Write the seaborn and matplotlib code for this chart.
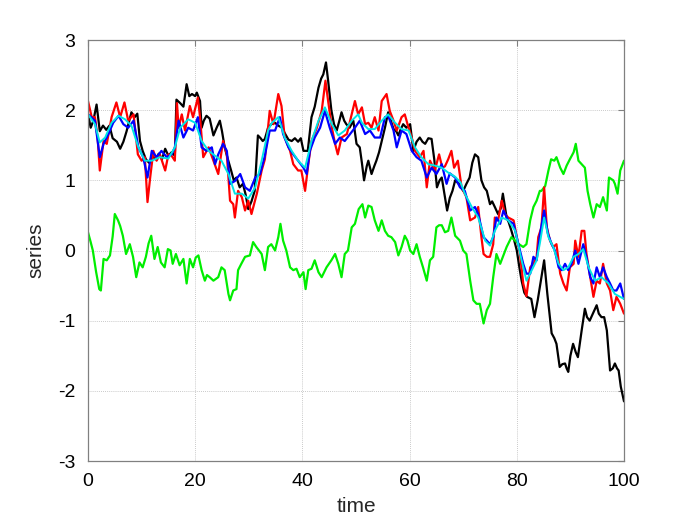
import matplotlib
matplotlib.use("Agg")
import matplotlib.pyplot as plt
import seaborn as sns
import numpy as np

# ---- data ----
t_black = [0, 0.5, 1.0, 1.6, 2.2, 2.8, 3.4, 4.0, 4.6, 5.4, 6.0, 6.6, 7.2, 8.1, 8.7, 9.2, 9.7, 10.2, 10.8, 11.4,
           12.0, 12.6, 13.2, 13.8, 14.4, 15.0, 15.6, 16.2, 16.5, 17.2, 17.8, 18.4, 18.9, 19.4, 20.0, 20.3, 20.9,
           21.2, 21.6, 22.1, 22.7, 23.4, 24.0, 24.6, 25.0, 25.5, 26.1, 26.7, 27.2, 27.7, 28.3, 28.9, 29.4, 29.9,
           30.5, 31.1, 31.7, 32.2, 32.6, 33.0, 33.6, 34.2, 34.9, 35.5, 36.2, 36.8, 37.4, 38.0, 38.6, 39.2, 39.7,
           40.2, 41.0, 41.7, 42.3, 43.0, 43.5, 43.9, 44.4, 44.8, 45.4, 45.9, 46.4, 46.9, 47.3, 47.8, 48.2, 48.8,
           49.5, 50.1, 50.7, 51.1, 51.5, 52.0, 52.3, 52.9, 53.4, 53.8, 54.3, 54.8, 55.4, 56.0, 56.5, 57.0, 57.5,
           57.9, 58.3, 58.8, 59.4, 60.1, 60.7, 61.3, 61.9, 62.4, 62.9, 63.5, 64.1, 64.6, 65.1, 65.6, 66.0, 66.5,
           67.0, 67.5, 68.0, 68.5, 69.2, 70.0, 70.6, 71.2, 71.7, 72.2, 72.8, 73.4, 73.9, 74.4, 75.0, 75.4, 75.9,
           76.5, 77.0, 77.4, 78.1, 78.5, 79.0, 79.5, 80.0, 80.5, 80.9, 81.4, 81.9, 82.7, 83.3, 83.9, 84.4, 85.1,
           85.7, 86.1, 86.5, 87.0, 87.4, 88.0, 88.5, 89.0, 89.3, 89.6, 90.0, 90.5, 91.0, 91.4, 92.1, 92.7, 93.1,
           93.6, 94.2, 94.9, 95.3, 95.8, 96.3, 96.8, 97.4, 97.9, 98.3, 98.7, 99.0, 99.4, 100]
black = [1.95, 1.75, 1.85, 2.08, 1.7, 1.78, 1.72, 1.78, 1.6, 1.55, 1.45, 1.55, 1.7, 1.97, 1.9, 1.95, 1.56, 1.42,
         1.3, 1.25, 1.35, 1.3, 1.38, 1.3, 1.45, 1.35, 1.4, 1.35, 2.15, 2.1, 2.05, 2.37, 2.2, 2.23, 2.2, 2.25, 2.13,
         1.75, 1.85, 1.92, 1.88, 1.64, 1.75, 1.85, 1.7, 1.47, 1.3, 1.14, 1.0, 1.04, 0.9, 0.95, 0.8, 0.59, 0.7,
         0.85, 1.64, 1.6, 1.56, 1.59, 1.75, 1.8, 1.82, 1.78, 1.75, 1.66, 1.58, 1.56, 1.6, 1.55, 1.6, 1.42, 1.42,
         1.9, 2.05, 2.32, 2.45, 2.51, 2.68, 2.42, 2.0, 1.8, 1.71, 1.85, 1.97, 1.85, 1.8, 1.75, 1.85, 1.52, 1.47,
         1.25, 1.0, 1.2, 1.28, 1.09, 1.2, 1.28, 1.4, 1.56, 1.75, 1.97, 1.85, 1.73, 1.7, 1.64, 1.72, 1.8, 1.75,
         1.8, 1.42, 1.55, 1.61, 1.55, 1.52, 1.6, 1.59, 1.3, 0.9, 1.0, 1.04, 0.8, 0.57, 0.75, 0.85, 1.0, 0.95,
         0.85, 0.95, 1.04, 1.25, 1.37, 1.33, 1.0, 0.9, 0.85, 0.66, 0.7, 0.62, 0.52, 0.6, 0.81, 0.47, 0.4, 0.28,
         0.15, 0.0, -0.25, -0.43, -0.6, -0.66, -0.69, -0.95, -0.71, -0.47, -0.14, -0.62, -0.9, -1.18, -1.25,
         -1.33, -1.66, -1.62, -1.61, -1.68, -1.73, -1.5, -1.33, -1.45, -1.52, -1.14, -0.83, -0.95, -1.0, -0.9,
         -0.78, -0.9, -0.95, -0.95, -1.14, -1.71, -1.68, -1.61, -1.68, -1.71, -1.94, -2.15]

t_green = [0, 0.5, 0.9, 1.5, 2.1, 2.4, 2.9, 3.5, 4.1, 4.6, 5.0, 5.6, 6.0, 6.5, 7.1, 7.8, 8.4, 9.0, 9.6, 10.2,
           10.8, 11.3, 11.8, 12.4, 13.0, 13.6, 14.3, 14.9, 15.4, 15.8, 16.4, 17.1, 17.8, 18.4, 19.0, 19.6, 20.1,
           20.6, 21.2, 21.8, 22.2, 22.7, 23.4, 24.3, 24.9, 25.5, 26.2, 26.5, 27.1, 27.7, 28.0, 28.6, 29.3, 30.2,
           30.8, 31.4, 32.4, 33.0, 33.6, 34.2, 34.9, 35.5, 35.9, 36.4, 37.0, 37.7, 38.3, 38.9, 39.5, 40.2, 40.6,
           41.1, 41.7, 42.3, 43.0, 43.6, 44.5, 45.4, 46.1, 46.7, 47.3, 47.9, 48.5, 49.2, 49.8, 50.5, 51.2, 51.7,
           52.3, 52.9, 53.5, 54.2, 54.8, 55.4, 56.0, 56.6, 57.3, 57.9, 58.5, 59.1, 59.6, 60.1, 60.7, 61.3, 61.9,
           62.5, 63.2, 63.8, 64.4, 65.0, 65.5, 66.0, 66.6, 67.2, 67.8, 68.5, 69.4, 70.0, 70.6, 71.3, 71.9, 72.5,
           73.1, 73.8, 74.4, 75.0, 75.6, 76.2, 76.9, 77.5, 78.1, 79.0, 79.7, 80.4, 81.2, 81.8, 82.5, 83.1, 83.7,
           84.3, 84.6, 85.3, 85.9, 86.4, 87.0, 87.4, 88.1, 88.7, 89.3, 89.9, 90.6, 91.0, 91.5, 92.1, 92.7, 93.2,
           93.7, 94.3, 94.9, 95.5, 96.1, 96.8, 97.2, 98.0, 98.3, 98.8, 99.3, 100]
green = [0.26, 0.12, 0.0, -0.3, -0.55, -0.57, -0.12, -0.14, -0.07, 0.2, 0.52, 0.43, 0.35, 0.21, -0.05, 0.09,
         -0.09, -0.38, -0.17, -0.24, -0.09, 0.1, 0.21, -0.12, 0.05, -0.17, -0.24, 0.02, 0.0, -0.19, -0.05, -0.21,
         -0.12, -0.47, -0.12, -0.24, -0.1, -0.07, -0.28, -0.43, -0.35, -0.38, -0.43, -0.38, -0.24, -0.28, -0.62,
         -0.71, -0.57, -0.55, -0.28, -0.19, -0.09, -0.07, 0.12, 0.05, -0.05, -0.28, 0.05, 0.09, 0.0, 0.19, 0.38,
         0.14, 0.0, -0.24, -0.28, -0.26, -0.38, -0.31, -0.55, -0.28, -0.26, -0.14, -0.31, -0.38, -0.24, -0.14,
         -0.05, -0.19, -0.38, -0.05, 0.0, 0.33, 0.38, 0.59, 0.66, 0.47, 0.64, 0.62, 0.43, 0.28, 0.43, 0.28, 0.21,
         0.19, 0.12, -0.07, 0.05, 0.21, 0.14, 0.0, -0.05, 0.09, -0.09, -0.24, -0.43, -0.14, -0.09, 0.33, 0.36,
         0.36, 0.26, 0.28, 0.47, 0.21, 0.14, 0.0, -0.05, -0.43, -0.71, -0.76, -0.76, -1.04, -0.85, -0.76, -0.38,
         -0.05, -0.19, -0.07, 0.05, 0.19, 0.14, 0.09, 0.05, 0.09, 0.43, 0.62, 0.71, 0.85, 0.85, 0.92, 1.14, 1.3,
         1.28, 1.33, 1.18, 1.09, 1.21, 1.3, 1.4, 1.52, 1.28, 1.23, 1.18, 0.85, 0.66, 0.47, 0.66, 0.62, 0.76,
         0.57, 1.04, 1.0, 0.95, 0.81, 1.14, 1.28]

t_red = [0, 0.7, 1.3, 1.8, 2.2, 2.9, 3.5, 4.4, 5.3, 6.0, 6.8, 7.5, 8.5, 9.3, 10.0, 10.6, 11.1, 11.6, 12.2, 12.8,
         13.4, 14.4, 15.0, 15.6, 16.2, 16.6, 16.9, 17.5, 18.1, 19.0, 19.6, 20.5, 20.9, 21.5, 22.5, 23.4, 24.3,
         25.2, 25.9, 26.5, 27.1, 27.4, 28.0, 28.7, 29.3, 29.9, 30.5, 31.5, 32.4, 33.0, 33.9, 34.6, 35.5, 36.1,
         36.7, 37.7, 38.3, 39.2, 39.8, 40.5, 41.1, 41.7, 42.7, 43.6, 44.3, 44.8, 45.5, 46.1, 46.6, 47.3, 48.3,
         49.2, 49.8, 50.4, 51.1, 51.7, 52.3, 52.9, 53.5, 54.2, 54.8, 55.7, 56.3, 57.0, 57.6, 58.5, 59.1, 59.8,
         60.4, 61.0, 61.9, 62.6, 63.2, 63.8, 64.7, 65.5, 66.1, 66.6, 67.2, 67.8, 68.3, 69.0, 69.7, 70.6, 71.3,
         72.2, 72.8, 73.4, 73.8, 74.4, 75.0, 75.6, 75.9, 76.5, 77.2, 77.8, 78.4, 79.4, 80.0, 80.6, 81.2, 81.8,
         82.5, 83.1, 83.7, 84.0, 84.6, 85.1, 85.6, 86.2, 86.8, 87.4, 88.1, 88.7, 89.3, 89.9, 90.6, 90.9, 91.5,
         92.1, 92.6, 93.0, 93.7, 94.3, 94.9, 95.5, 96.1, 96.8, 97.4, 98.0, 98.6, 99.3, 100]
red = [2.13, 1.9, 1.9, 1.6, 1.14, 1.56, 1.52, 1.9, 2.11, 1.9, 2.11, 1.85, 1.94, 1.37, 1.28, 1.33, 0.69, 1.04,
       1.42, 1.28, 1.37, 1.14, 1.37, 1.35, 1.28, 2.1, 1.75, 1.94, 1.71, 2.06, 1.9, 2.18, 1.9, 1.33, 1.47, 1.28,
       1.09, 1.56, 1.37, 0.71, 0.66, 0.47, 0.85, 0.76, 0.57, 0.71, 0.52, 0.81, 1.14, 1.3, 1.99, 1.8, 2.23, 2.06,
       1.61, 1.42, 1.23, 1.14, 1.14, 0.85, 1.23, 1.56, 1.75, 1.99, 2.42, 2.13, 1.75, 1.52, 1.37, 1.61, 1.66,
       1.94, 2.13, 1.94, 2.04, 1.8, 1.82, 1.75, 1.9, 1.71, 2.13, 2.23, 1.99, 1.85, 1.71, 1.9, 1.94, 1.75, 1.61,
       1.42, 1.33, 1.42, 0.9, 1.28, 1.14, 1.37, 1.18, 1.2, 1.3, 1.42, 1.18, 1.28, 0.9, 0.76, 0.43, 0.47, 0.62,
       0.19, -0.05, -0.09, -0.09, 0.09, 0.47, 0.43, 0.71, 0.52, 0.47, 0.43, 0.19, -0.05, -0.47, -0.65, -0.24,
       -0.19, -0.09, 0.19, 0.33, 0.9, 0.33, 0.14, 0.05, 0.09, -0.33, -0.47, -0.57, -0.24, -0.19, 0.14, -0.09,
       0.28, 0.28, -0.05, -0.38, -0.66, -0.43, -0.47, -0.19, -0.47, -0.57, -0.85, -0.66, -0.76, -0.9]

t_blue = [0, 1.3, 2.2, 2.9, 3.8, 4.7, 5.7, 6.6, 7.5, 8.5, 9.4, 10.3, 11.1, 11.9, 12.8, 13.7, 14.7, 15.6, 16.2,
          16.9, 17.8, 18.7, 19.6, 20.5, 21.2, 22.1, 23.1, 23.7, 24.3, 25.2, 25.9, 26.5, 27.4, 28.4, 29.3, 30.2,
          31.2, 32.1, 33.0, 33.9, 34.9, 35.8, 36.4, 37.4, 38.3, 39.2, 40.2, 40.8, 41.4, 42.3, 43.3, 44.2, 45.1,
          46.1, 47.0, 47.9, 48.9, 49.8, 50.7, 51.7, 52.6, 53.5, 54.5, 55.4, 56.0, 57.0, 57.6, 58.5, 59.4, 60.4,
          61.3, 62.2, 63.2, 64.1, 65.0, 66.0, 66.9, 67.5, 68.5, 69.4, 70.3, 71.3, 72.2, 72.8, 73.8, 74.4, 75.0,
          75.6, 76.2, 76.9, 77.5, 78.4, 79.4, 80.3, 81.2, 81.8, 82.5, 83.1, 83.7, 84.3, 85.1, 85.8, 86.5, 87.1,
          87.8, 88.4, 89.0, 89.6, 90.2, 90.9, 91.5, 92.4, 93.0, 93.7, 94.3, 94.9, 95.5, 96.1, 96.8, 97.4, 98.0,
          98.6, 99.3, 100]
blue = [1.94, 1.85, 1.33, 1.52, 1.66, 1.82, 1.92, 1.8, 1.75, 1.85, 1.47, 1.33, 1.04, 1.42, 1.33, 1.42, 1.33,
        1.37, 1.47, 1.85, 1.61, 1.75, 1.71, 1.9, 1.47, 1.42, 1.47, 1.23, 1.37, 1.52, 1.42, 0.95, 0.99, 1.09,
        0.9, 0.85, 1.04, 1.09, 1.35, 1.71, 1.71, 1.9, 1.66, 1.47, 1.37, 1.28, 1.18, 1.09, 1.42, 1.61, 1.75,
        1.99, 1.75, 1.52, 1.61, 1.56, 1.66, 1.75, 1.85, 1.66, 1.71, 1.61, 1.61, 1.9, 1.92, 1.71, 1.47, 1.71,
        1.66, 1.42, 1.33, 1.28, 1.04, 1.18, 1.09, 1.23, 0.95, 1.1, 1.04, 0.9, 0.85, 0.57, 0.62, 0.52, 0.19,
        0.14, 0.09, 0.19, 0.47, 0.38, 0.57, 0.43, 0.38, 0.09, -0.19, -0.33, -0.33, -0.09, -0.14, 0.22, 0.57,
        0.24, 0.09, 0.0, -0.24, -0.28, -0.19, -0.28, -0.19, 0.0, -0.19, 0.09, -0.09, -0.38, -0.47, -0.24,
        -0.38, -0.24, -0.38, -0.47, -0.57, -0.57, -0.47, -0.69]

t_cyan = [0, 1.3, 2.2, 3.2, 4.4, 5.7, 6.9, 8.1, 9.4, 10.6, 11.9, 13.4, 15.0, 16.2, 17.2, 18.7, 20.0, 21.2, 22.5,
          23.7, 24.9, 26.2, 27.4, 28.7, 29.9, 31.2, 32.4, 33.6, 34.3, 35.5, 36.7, 38.0, 39.2, 40.5, 41.7, 43.0,
          44.2, 45.5, 46.7, 47.9, 49.2, 50.4, 51.1, 52.3, 53.5, 54.8, 56.0, 57.3, 58.5, 59.8, 61.0, 62.2, 63.5,
          64.7, 66.0, 67.2, 68.5, 69.5, 70.3, 71.6, 72.8, 74.1, 75.0, 75.9, 77.2, 78.4, 79.7, 80.9, 81.8, 82.8,
          83.7, 84.3, 85.1, 85.9, 86.8, 87.8, 88.7, 89.6, 90.6, 91.5, 92.4, 93.4, 94.6, 95.8, 97.1, 98.3, 100]
cyan = [1.94, 1.8, 1.54, 1.61, 1.82, 1.92, 1.87, 1.78, 1.47, 1.28, 1.28, 1.33, 1.31, 1.47, 1.75, 1.87, 1.82,
        1.56, 1.42, 1.35, 1.28, 1.09, 0.81, 0.81, 0.74, 0.9, 1.28, 1.71, 1.82, 1.9, 1.61, 1.42, 1.28, 1.18,
        1.56, 1.85, 2.04, 1.8, 1.64, 1.71, 1.85, 1.94, 1.82, 1.73, 1.73, 1.85, 1.94, 1.82, 1.73, 1.71, 1.47,
        1.33, 1.23, 1.21, 1.18, 1.11, 1.05, 0.97, 0.81, 0.62, 0.47, 0.14, 0.07, 0.28, 0.47, 0.43, 0.28, -0.14,
        -0.43, -0.28, -0.14, 0.1, 0.47, 0.19, 0.05, -0.19, -0.28, -0.24, -0.09, -0.05, 0.02, -0.24, -0.43,
        -0.38, -0.47, -0.62, -0.69]

x_ticks = [0, 20, 40, 60, 80, 100]
y_ticks = [-3, -2, -1, 0, 1, 2, 3]

# ---- drawing ----
sns.set_style("white")
plt.rcParams['font.family'] = ['Liberation Sans', 'DejaVu Sans']

fig = plt.figure(figsize=(6.9, 5.17), dpi=100)
ax = fig.add_axes([88 / 690, 1 - 461 / 517, (624 - 88) / 690, (461 - 40) / 517])

series = [
    (t_black, black, "#000000", 1.6),
    (t_green, green, "#00ee00", 1.6),
    (t_red, red, "#ff0000", 1.6),
    (t_blue, blue, "#0000ff", 1.6),
    (t_cyan, cyan, "#00e5e5", 1.4),
]
for tt, vv, col, lw in series:
    sns.lineplot(x=np.array(tt), y=np.array(vv), color=col, linewidth=lw, ax=ax,
                 estimator=None, sort=False)

ax.set_xlim(0, 100)
ax.set_ylim(-3, 3)
ax.set_xticks(x_ticks)
ax.set_yticks(y_ticks)
ax.set_xticklabels([str(v) for v in x_ticks])
ax.set_yticklabels([str(v) for v in y_ticks])

ax.grid(True, color="#b8b8b8", linestyle=(0, (1, 1.5)), linewidth=0.6)
ax.set_axisbelow(True)
for s in ax.spines.values():
    s.set_color("#808080")
    s.set_linewidth(0.9)
ax.tick_params(axis="both", direction="in", length=4, width=0.8, color="#808080",
               labelsize=14, labelcolor="black", top=True, right=True, pad=9)
ax.set_xlabel("time", fontsize=15, labelpad=5)
ax.set_ylabel("series", fontsize=15, labelpad=9)

fig.savefig("out.png", dpi=100)
